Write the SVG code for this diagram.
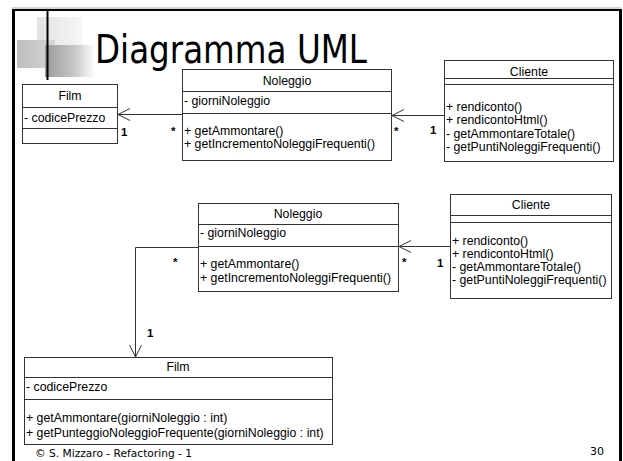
<svg xmlns="http://www.w3.org/2000/svg" width="623" height="461" viewBox="0 0 623 461">
<style>
.box{fill:#fff;stroke:#333;stroke-width:1}
.sep{stroke:#333;stroke-width:1}
.t{font-family:"Liberation Sans",Arial,sans-serif;font-size:12.3px;fill:#000}
.c{text-anchor:middle}
.m{font-family:"Liberation Sans",Arial,sans-serif;font-size:11.5px;font-weight:bold;fill:#000}
.conn{fill:none;stroke:#333;stroke-width:1}
</style>
<defs>
<linearGradient id="gl" x1="0" x2="1" y1="0" y2="0"><stop offset="0" stop-color="#111"/><stop offset="0.6" stop-color="#999"/><stop offset="1" stop-color="#fff"/></linearGradient>
<linearGradient id="g1" x1="0" x2="1"><stop offset="0" stop-color="#e2e2e2"/><stop offset="1" stop-color="#f6f6f6"/></linearGradient>
<linearGradient id="g2" x1="0" x2="1"><stop offset="0" stop-color="#bdbdbd"/><stop offset="1" stop-color="#d6d6d6"/></linearGradient>
<linearGradient id="g3" x1="0" x2="1"><stop offset="0" stop-color="#9a9a9a"/><stop offset="0.6" stop-color="#c8c8c8"/><stop offset="1" stop-color="#fff"/></linearGradient>
<marker id="arr" markerWidth="14" markerHeight="14" refX="12" refY="7" orient="auto" markerUnits="userSpaceOnUse"><path d="M0,1 L12,7 L0,13" fill="none" stroke="#333" stroke-width="1"/></marker>
</defs>
<g id="frame">
<line x1="12" y1="8" x2="621" y2="8" stroke="#aaa" stroke-width="1"/>
<line x1="12" y1="10" x2="621" y2="10" stroke="#000" stroke-width="2"/>
<line x1="13.5" y1="9" x2="13.5" y2="461" stroke="#000" stroke-width="3"/>
<line x1="620.5" y1="9" x2="620.5" y2="461" stroke="#000" stroke-width="3"/>
</g>
<g id="decoration">
<rect x="37" y="17" width="45" height="30" fill="url(#g1)"/>
<rect x="17" y="40" width="38" height="28" fill="url(#g2)"/>
<rect x="45" y="45" width="50" height="32" fill="url(#g3)"/>
<line x1="41" y1="24" x2="600" y2="24" stroke="url(#gl)" stroke-width="2"/>
<line x1="47.5" y1="10" x2="47.5" y2="80" stroke="#000" stroke-width="2"/>
<text x="95" y="63" font-family="DejaVu Sans,Verdana,sans-serif" font-size="39" textLength="272" lengthAdjust="spacingAndGlyphs" fill="#000">Diagramma UML</text>
</g>
<g id="film1">
<rect class="box" x="22.5" y="84.5" width="95" height="59"/>
<line class="sep" x1="22.5" y1="107.5" x2="117.5" y2="107.5"/>
<line class="sep" x1="22.5" y1="128.5" x2="117.5" y2="128.5"/>
<text class="t c" x="70" y="100">Film</text>
<text class="t" x="24" y="122">- codicePrezzo</text>
</g>
<g id="noleggio1">
<rect class="box" x="182.5" y="69.5" width="209" height="91"/>
<line class="sep" x1="182.5" y1="91.5" x2="391.5" y2="91.5"/>
<line class="sep" x1="182.5" y1="113.5" x2="391.5" y2="113.5"/>
<text class="t c" x="287" y="85">Noleggio</text>
<text class="t" x="184" y="105">- giorniNoleggio</text>
<text class="t" x="184" y="135">+ getAmmontare()</text>
<text class="t" x="184" y="148">+ getIncrementoNoleggiFrequenti()</text>
</g>
<g id="cliente1">
<rect class="box" x="444.5" y="60.5" width="169" height="101"/>
<line class="sep" x1="444.5" y1="78.5" x2="613.5" y2="78.5"/>
<line class="sep" x1="444.5" y1="84.5" x2="613.5" y2="84.5"/>
<text class="t c" x="529" y="76">Cliente</text>
<text class="t" x="446" y="111">+ rendiconto()</text>
<text class="t" x="446" y="124">+ rendicontoHtml()</text>
<text class="t" x="446" y="138">- getAmmontareTotale()</text>
<text class="t" x="446" y="151">- getPuntiNoleggiFrequenti()</text>
</g>
<g id="noleggio2">
<rect class="box" x="198.5" y="203.5" width="200" height="88"/>
<line class="sep" x1="198.5" y1="224.5" x2="398.5" y2="224.5"/>
<line class="sep" x1="198.5" y1="246.5" x2="398.5" y2="246.5"/>
<text class="t c" x="298" y="218">Noleggio</text>
<text class="t" x="200" y="237">- giorniNoleggio</text>
<text class="t" x="200" y="268">+ getAmmontare()</text>
<text class="t" x="200" y="282">+ getIncrementoNoleggiFrequenti()</text>
</g>
<g id="cliente2">
<rect class="box" x="450.5" y="194.5" width="161" height="104"/>
<line class="sep" x1="450.5" y1="215.5" x2="611.5" y2="215.5"/>
<line class="sep" x1="450.5" y1="222.5" x2="611.5" y2="222.5"/>
<text class="t c" x="531" y="209">Cliente</text>
<text class="t" x="452" y="245">+ rendiconto()</text>
<text class="t" x="452" y="258">+ rendicontoHtml()</text>
<text class="t" x="452" y="271">- getAmmontareTotale()</text>
<text class="t" x="452" y="284">- getPuntiNoleggiFrequenti()</text>
</g>
<g id="film2">
<rect class="box" x="24.5" y="357.5" width="308" height="87"/>
<line class="sep" x1="24.5" y1="377.5" x2="332.5" y2="377.5"/>
<line class="sep" x1="24.5" y1="399.5" x2="332.5" y2="399.5"/>
<text class="t c" x="178" y="371">Film</text>
<text class="t" x="26" y="391">- codicePrezzo</text>
<text class="t" x="26" y="422">+ getAmmontare(giorniNoleggio : int)</text>
<text class="t" x="26" y="437">+ getPunteggioNoleggioFrequente(giorniNoleggio : int)</text>
</g>
<g id="connectors">
<line class="conn" x1="182" y1="114.5" x2="118" y2="114.5" marker-end="url(#arr)"/>
<line class="conn" x1="444" y1="115.5" x2="392" y2="115.5" marker-end="url(#arr)"/>
<line class="conn" x1="450" y1="246.5" x2="399" y2="246.5" marker-end="url(#arr)"/>
<polyline class="conn" points="198,247.5 135.5,247.5 135.5,357" marker-end="url(#arr)"/>
<text class="m" x="121" y="136">1</text>
<text class="m" x="171" y="135">*</text>
<text class="m" x="394" y="135">*</text>
<text class="m" x="430" y="134">1</text>
<text class="m" x="173" y="266">*</text>
<text class="m" x="402" y="266">*</text>
<text class="m" x="437" y="267">1</text>
<text class="m" x="147" y="337">1</text>
</g>
<g id="footer">
<text x="35" y="457" font-family="DejaVu Sans,Verdana,sans-serif" font-size="11" textLength="157" lengthAdjust="spacingAndGlyphs" fill="#000">© S. Mizzaro - Refactoring - 1</text>
<text x="590" y="455" font-family="DejaVu Sans,Verdana,sans-serif" font-size="11" fill="#000">30</text>
</g>
</svg>
